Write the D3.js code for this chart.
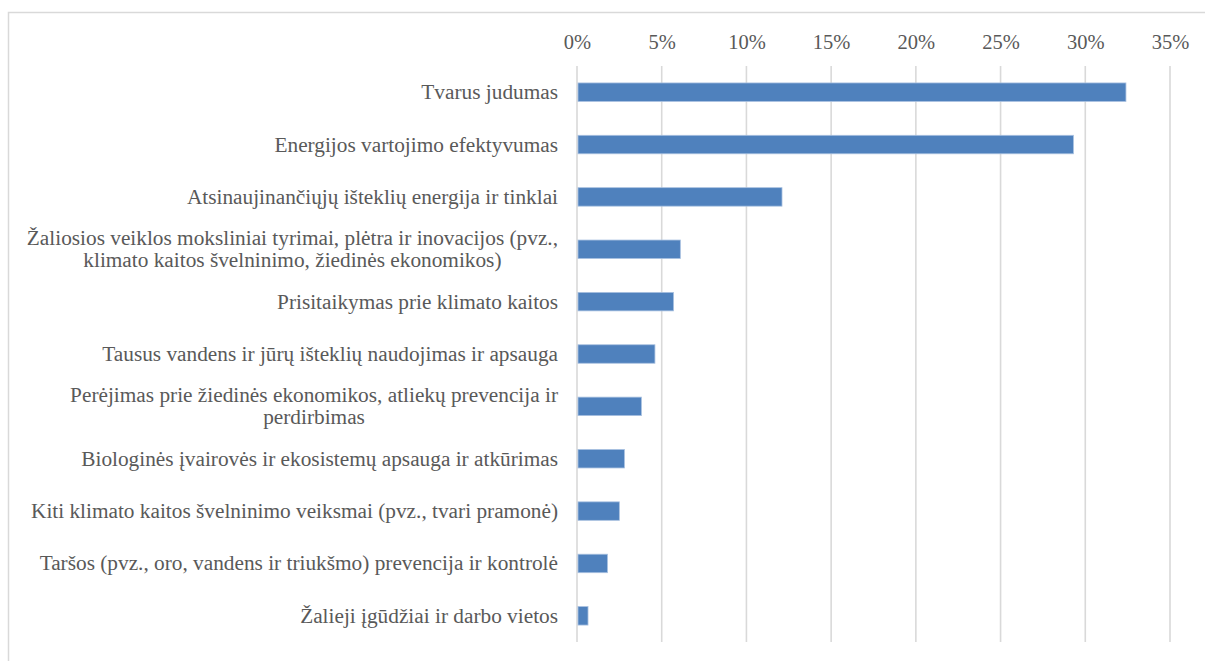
<!DOCTYPE html>
<html>
<head>
<meta charset="utf-8">
<script src="https://cdn.jsdelivr.net/npm/d3@7"></script>
<style>
  html, body { margin: 0; padding: 0; background: #fff; }
  svg { display: block; }
</style>
</head>
<body>
<svg id="chart" width="1205" height="661"></svg>
<script>
const categories = [
  "Tvarus judumas",
  "Energijos vartojimo efektyvumas",
  "Atsinaujinančiųjų išteklių energija ir tinklai",
  "Žaliosios veiklos moksliniai tyrimai, plėtra ir inovacijos (pvz.,\nklimato kaitos švelninimo, žiedinės ekonomikos)",
  "Prisitaikymas prie klimato kaitos",
  "Tausus vandens ir jūrų išteklių naudojimas ir apsauga",
  "Perėjimas prie žiedinės ekonomikos, atliekų prevencija ir\nperdirbimas",
  "Biologinės įvairovės ir ekosistemų apsauga ir atkūrimas",
  "Kiti klimato kaitos švelninimo veiksmai (pvz., tvari pramonė)",
  "Taršos (pvz., oro, vandens ir triukšmo) prevencija ir kontrolė",
  "Žalieji įgūdžiai ir darbo vietos"
];
const values = [0.324, 0.293, 0.121, 0.061, 0.057, 0.046, 0.038, 0.028, 0.025, 0.018, 0.0065];
const tickValues = [0, 0.05, 0.10, 0.15, 0.20, 0.25, 0.30, 0.35];

const FONT = "'Liberation Serif', 'Times New Roman', serif";
const FS = "21.3px";
const TXT = "#595959";

const svg = d3.select("#chart");

// outer chart border
svg.append("rect")
  .attr("x", 8.5).attr("y", 12.5)
  .attr("width", 1300).attr("height", 700)
  .attr("fill", "none").attr("stroke", "#d9d9d9").attr("stroke-width", 1.5);

const x = d3.scaleLinear().domain([0, 0.35]).range([577, 1170]);
const y = d3.scaleBand().domain(categories).range([66, 642])
  .paddingInner(0.647).paddingOuter(0.3235);

// gridlines
svg.append("g").selectAll("line").data(tickValues).join("line")
  .attr("x1", d => x(d)).attr("x2", d => x(d))
  .attr("y1", 66).attr("y2", 642)
  .attr("stroke", "#d9d9d9").attr("stroke-width", 1.6);

// top axis labels
const axis = d3.axisTop(x).tickValues(tickValues)
  .tickFormat(d3.format(".0%")).tickSize(0).tickPadding(0);
const ag = svg.append("g").attr("transform", "translate(0,49)").call(axis);
ag.select(".domain").remove();
ag.attr("font-family", null).attr("font-size", null);
ag.selectAll("text")
  .attr("dy", 0)
  .style("font-family", FONT)
  .style("font-size", "20.5px").style("fill", TXT);

// bars
svg.append("g").selectAll("rect").data(categories).join("rect")
  .attr("x", x(0) + 1)
  .attr("y", d => y(d))
  .attr("width", (d, i) => x(values[i]) - x(0) - 1)
  .attr("height", y.bandwidth())
  .attr("fill", "#4f81bd")
  .attr("stroke", "#a9c1e0").attr("stroke-width", 0.8);

// category labels
const labelRight = 558;
const lh = 22;
const lg = svg.append("g");
categories.forEach(c => {
  const lines = c.split("\n");
  const cy = y(c) + y.bandwidth() / 2;
  const t = lg.append("text")
    .style("font-family", FONT).style("font-size", FS).style("fill", TXT);
  if (lines.length === 1) {
    t.attr("x", labelRight).attr("y", cy).attr("dy", "0.33em")
      .attr("text-anchor", "end").text(lines[0]);
  } else {
    const probe = lg.append("text").style("font-family", FONT).style("font-size", FS).text(lines[0]);
    const w = probe.node().getComputedTextLength();
    probe.remove();
    const cx = labelRight - w / 2;
    t.attr("text-anchor", "middle");
    lines.forEach((ln, k) => {
      t.append("tspan").attr("x", cx)
        .attr("y", cy + (k - (lines.length - 1) / 2) * lh)
        .attr("dy", "0.33em").text(ln);
    });
  }
});
</script>
</body>
</html>
